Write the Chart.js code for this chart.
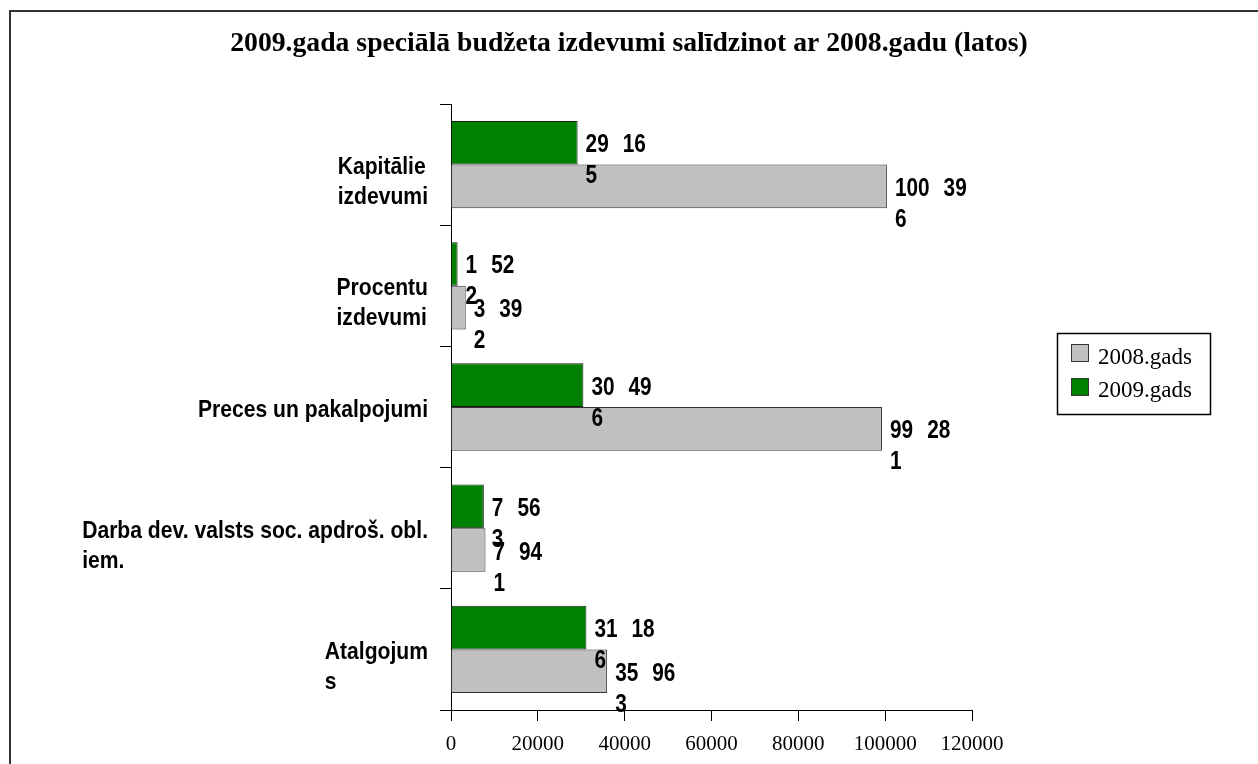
<!DOCTYPE html>
<html>
<head>
<meta charset="utf-8">
<script src="https://cdn.jsdelivr.net/npm/chart.js"></script>
<style>
  html, body { margin: 0; padding: 0; background: #fff; }
  canvas { display: block; }
</style>
</head>
<body>
<canvas id="chart" width="1258" height="764"></canvas>
<script>
// --- data ---
const categories = [
    ['Kapitālie', 'izdevumi'],
    ['Procentu', 'izdevumi'],
    ['Preces un pakalpojumi'],
    ['Darba dev. valsts soc. apdroš. obl.', 'iem.'],
    ['Atalgojum', 's']
];
const values2008 = [100396, 3392, 99281, 7941, 35963];
const values2009 = [29165, 1522, 30496, 7563, 31186];
const seriesNames = ['2009.gads', '2008.gads'];
const xTicks = [0, 20000, 40000, 60000, 80000, 100000, 120000];
const titleText = '2009.gada speciālā budžeta izdevumi salīdzinot ar 2008.gadu (latos)';

const GREEN = '#008000';
const GRAY = '#c0c0c0';

// draw text squeezed horizontally (the reference fonts are narrow)
function squeezed(ctx, text, x, y, sx) {
    ctx.save();
    ctx.translate(x, y);
    ctx.scale(sx, 1);
    ctx.fillText(text, 0, 0);
    ctx.restore();
}

const decorations = {
    id: 'decorations',
    beforeDraw: (chart) => {
        const ctx = chart.ctx;
        ctx.save();
        ctx.fillStyle = '#fff';
        ctx.fillRect(0, 0, chart.width, chart.height);
        // outer frame, cut by the right and bottom edge
        ctx.strokeStyle = '#333';
        ctx.lineWidth = 2;
        ctx.strokeRect(10, 11, 1400, 900);
        ctx.restore();
    },
    afterDraw: (chart) => {
        const ctx = chart.ctx;
        const xScale = chart.scales.x;
        const yScale = chart.scales.y;
        ctx.save();
        ctx.fillStyle = '#000';

        // title
        ctx.font = 'bold 27.7px "Liberation Serif"';
        ctx.textAlign = 'center';
        ctx.textBaseline = 'alphabetic';
        ctx.fillText(titleText, 629, 51);

        // x tick labels
        ctx.font = '21px "Liberation Serif"';
        xTicks.forEach(t => {
            ctx.fillText(String(t), xScale.getPixelForValue(t), 750);
        });

        // category labels, left aligned block ending near the axis
        ctx.font = 'bold 24px "Liberation Sans"';
        ctx.textAlign = 'left';
        const catSx = 0.88;
        categories.forEach((lines, i) => {
            const cy = yScale.getPixelForValue(i);
            const w = Math.max(...lines.map(l => ctx.measureText(l).width)) * catSx;
            const left = 428 - w;
            lines.forEach((l, j) => {
                squeezed(ctx, l, left, cy + 9.5 + j * 30, catSx);
            });
        });

        // value labels, wrapped like the original (last digit on its own line)
        ctx.font = 'bold 26px "Liberation Sans"';
        const valSx = 0.8;
        chart.data.datasets.forEach((ds, di) => {
            const meta = chart.getDatasetMeta(di);
            meta.data.forEach((bar, i) => {
                const s = String(ds.data[i]).replace(/\B(?=(\d{3})+(?!\d))/g, ' ');
                const first = s.slice(0, -1).split(' ');
                const last = s.slice(-1);
                let x = bar.x + 8;
                const y = bar.y + 9.5;
                first.forEach(part => {
                    squeezed(ctx, part, x, y, valSx);
                    x += ctx.measureText(part).width * valSx + 14;
                });
                squeezed(ctx, last, bar.x + 8, y + 31, valSx);
            });
        });

        // legend
        ctx.lineWidth = 1.5;
        ctx.strokeStyle = '#000';
        ctx.strokeRect(1057.5, 333.5, 153, 81);
        const legendItems = [
            { name: seriesNames[1], color: GRAY, y: 344, base: 364 },
            { name: seriesNames[0], color: GREEN, y: 378, base: 397 }
        ];
        ctx.font = '23px "Liberation Serif"';
        legendItems.forEach(item => {
            ctx.fillStyle = item.color;
            ctx.fillRect(1071, item.y, 18, 18);
            ctx.lineWidth = 1;
            ctx.strokeStyle = '#333';
            ctx.strokeRect(1071.5, item.y + 0.5, 17, 17);
            ctx.fillStyle = '#000';
            ctx.fillText(item.name, 1098, item.base);
        });
        ctx.restore();
    }
};

new Chart(document.getElementById('chart'), {
    type: 'bar',
    data: {
        labels: categories,
        datasets: [
            {
                label: seriesNames[0],
                data: values2009,
                backgroundColor: GREEN,
                borderColor: '#1a1a1a',
                borderWidth: 1
            },
            {
                label: seriesNames[1],
                data: values2008,
                backgroundColor: GRAY,
                borderColor: '#333',
                borderWidth: 1
            }
        ]
    },
    options: {
        indexAxis: 'y',
        responsive: false,
        animation: false,
        events: [],
        layout: { padding: { left: 440, top: 104, right: 286, bottom: 43 } },
        datasets: { bar: { categoryPercentage: 0.72, barPercentage: 1.0 } },
        scales: {
            x: {
                min: 0,
                max: 120000,
                afterBuildTicks: (scale) => { scale.ticks = xTicks.map(v => ({ value: v })); },
                ticks: { display: false },
                grid: { drawOnChartArea: false, color: '#000', tickLength: 11 },
                border: { color: '#000', width: 1 }
            },
            y: {
                ticks: { display: false },
                grid: { drawOnChartArea: false, offset: true, color: '#000', tickLength: 11 },
                border: { color: '#000', width: 1 }
            }
        },
        plugins: {
            legend: { display: false },
            tooltip: { enabled: false },
            title: { display: false }
        }
    },
    plugins: [decorations]
});
</script>
</body>
</html>
